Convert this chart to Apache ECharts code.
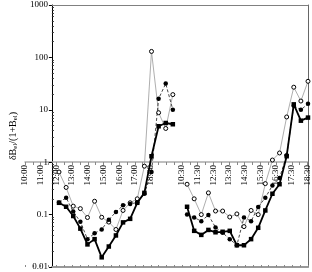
<!DOCTYPE html>
<html><head><meta charset="utf-8">
<script src="https://cdn.jsdelivr.net/npm/echarts@6/dist/echarts.min.js"></script>
<style>html,body{margin:0;padding:0;background:#fff}#c{width:312px;height:272px}</style>
</head><body><div id="c"></div>
<script>
// half-hour slots: 0..18 first day (10:00..19:00), 19..36 second day (10:00..18:30)
var tickLabelIndex = [0,2,4,6,8,10,12,14,16,20,22,24,26,28,30,32,34,36];
var tickLabelText  = ['10:00','11:00','12:00','13:00','14:00','15:00','16:00','17:00','18:00',
                      '10:30','11:30','12:30','13:30','14:30','15:30','16:30','17:30','18:30'];
var yTickLabels = ['0.01','0.1','1','10','100','1000'];
var yMinorTickValues = [0.02,0.03,0.04,0.05,0.06,0.07,0.08,0.09,
                        0.2,0.3,0.4,0.5,0.6,0.7,0.8,0.9,
                        2,3,4,5,6,7,8,9,20,30,40,50,60,70,80,90,200,300,400,500,600,700,800,900];

var squares = [null,0.168,0.141,0.094,0.054,0.027,0.034,0.0153,0.0246,0.040,0.071,0.083,0.168,0.26,1.3,4.85,5.6,5.3,
               null,0.141,0.049,0.041,0.051,0.046,0.047,0.049,0.026,0.026,0.034,0.056,0.12,0.25,0.38,1.3,12.7,6.2,7.1];
var filledCircles = [null,0.17,0.21,0.114,0.073,0.034,0.044,0.052,0.080,0.112,0.15,0.16,0.17,0.25,0.65,16.3,31.6,10,
               null,0.10,0.088,0.075,0.098,0.057,0.045,0.034,0.026,0.088,0.075,0.14,0.21,0.36,0.5,1.35,12,10,13];
var openCircles = [null,0.65,0.33,0.145,0.13,0.088,0.18,0.089,0.072,0.052,0.12,0.168,0.2,0.84,130,8.8,4.4,19.5,
               null,0.38,0.20,0.10,0.26,0.117,0.117,0.09,0.103,0.059,0.12,0.10,0.39,1.1,1.5,7.3,27,14.7,35];

function pairs(arr){ return arr.map(function(v,i){ return [i, v]; }); }
var serif = '"Liberation Serif","DejaVu Serif",serif';

var chart = echarts.init(document.getElementById('c'), null, {renderer:'canvas'});
chart.setOption({
  animation:false,
  grid:[
    {left:25,right:4,top:5,bottom:5},
    {left:25,right:4,top:5,bottom:110},
    {left:25,right:4,top:162,bottom:5}
  ],
  xAxis:[
    {gridIndex:0,type:'value',min:0,max:36,position:'bottom',
     axisLine:{show:true,lineStyle:{color:'#999',width:2}},axisTick:{show:false},axisLabel:{show:false},splitLine:{show:false}},
    {gridIndex:0,type:'value',min:0,max:36,position:'top',
     axisLine:{show:true,lineStyle:{color:'#808080',width:1}},axisTick:{show:false},axisLabel:{show:false},splitLine:{show:false}},
    {gridIndex:1,type:'value',min:0,max:36,interval:1,position:'bottom',
     axisLine:{show:true,lineStyle:{color:'#aaa',width:1.5}},
     axisTick:{show:true,inside:false,length:3,lineStyle:{color:'#888'}},
     splitLine:{show:false},
     axisLabel:{show:true,rotate:90,margin:3,fontSize:9,fontFamily:serif,color:'#000',hideOverlap:false,
       formatter:function(v){ var k = tickLabelIndex.indexOf(Math.round(v)); return k>=0 ? tickLabelText[k] : ''; }}},
    {gridIndex:2,type:'value',min:0,max:36,interval:1,position:'top',
     axisLine:{show:false},axisLabel:{show:false},splitLine:{show:false},
     axisTick:{show:true,inside:false,length:2,lineStyle:{color:'#888'}}}
  ],
  yAxis:[
    {gridIndex:0,type:'log',logBase:10,min:0.01,max:1000,position:'left',
     axisLine:{show:true,lineStyle:{color:'#000',width:1}},
     axisTick:{show:true,length:3,lineStyle:{color:'#000'}},
     axisLabel:{fontSize:9,fontFamily:serif,color:'#000',margin:4,
       formatter:function(v){ var e = Math.round(Math.log10(v)); return yTickLabels[e+2]; }},
     splitLine:{show:false},
     name:'{a|δB}{s|el}{a|/(1+B}{s|el}{a|)}',nameLocation:'middle',nameGap:14,nameRotate:90,
     nameTextStyle:{rich:{a:{fontSize:10,fontFamily:serif,color:'#000'},s:{fontSize:7,fontFamily:serif,color:'#000',padding:[5,0,0,0]}}}},
    {gridIndex:0,type:'log',logBase:10,min:0.01,max:1000,position:'left',
     axisLine:{show:false},axisLabel:{show:false},splitLine:{show:false},
     axisTick:{show:true,inside:true,length:2,lineStyle:{color:'#333'},
       customValues:yMinorTickValues}},
    {gridIndex:0,type:'log',logBase:10,min:0.01,max:1000,position:'right',
     axisLine:{show:true,lineStyle:{color:'#666',width:1}},axisTick:{show:false},axisLabel:{show:false},splitLine:{show:false}},
    {gridIndex:1,type:'value',min:0,max:1,show:false},
    {gridIndex:2,type:'value',min:0,max:1,show:false}
  ],
  series:[
    {type:'line',name:'open',xAxisIndex:0,yAxisIndex:0,data:pairs(openCircles),connectNulls:false,
     symbol:'circle',symbolSize:4,itemStyle:{color:'#fff',borderColor:'#000',borderWidth:1},
     lineStyle:{color:'#999',width:0.8},z:2},
    {type:'line',name:'filled',xAxisIndex:0,yAxisIndex:0,data:pairs(filledCircles),connectNulls:false,
     symbol:'circle',symbolSize:4.5,itemStyle:{color:'#000',borderColor:'#000',borderWidth:0},
     lineStyle:{color:'#333',width:0.9,type:[3,2]},z:3},
    {type:'line',name:'squares',xAxisIndex:0,yAxisIndex:0,data:pairs(squares),connectNulls:false,
     symbol:'rect',symbolSize:4.5,itemStyle:{color:'#000',borderWidth:0},
     lineStyle:{color:'#000',width:1.8},z:4}
  ]
});
</script></body></html>
